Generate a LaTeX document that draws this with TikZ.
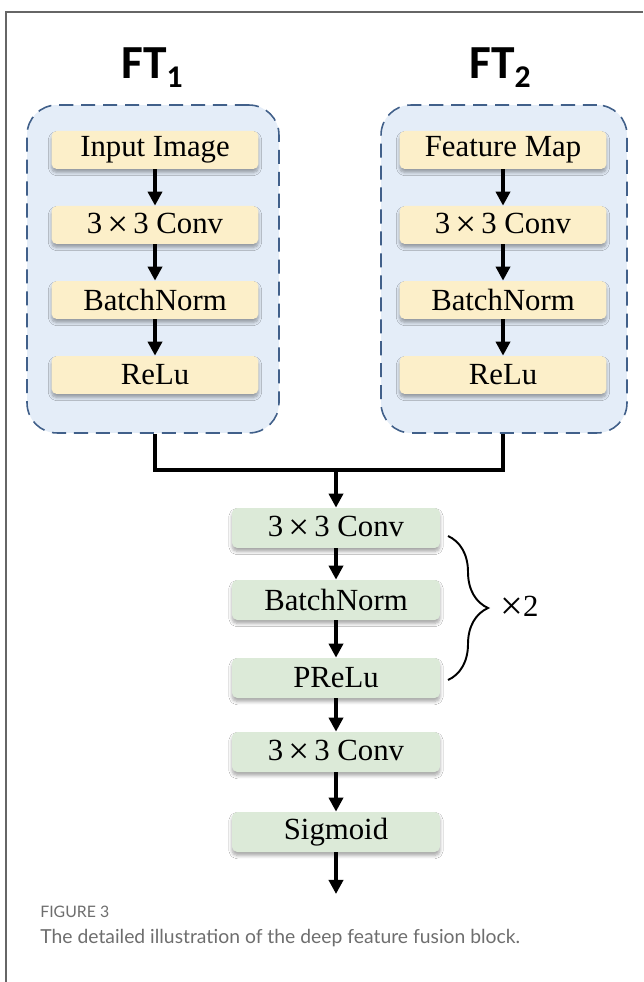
\documentclass[tikz,border=0pt]{standalone}
\usepackage{fontspec}
\setmainfont{Liberation Serif}
\newfontfamily\titlefont{Carlito}
\newfontfamily\capfont{Lato}
\usetikzlibrary{arrows.meta,shadows.blur,decorations.pathreplacing,positioning}
\definecolor{boxyellow}{HTML}{FCEFC9}
\definecolor{boxgreen}{HTML}{DCEAD8}
\definecolor{grpblue}{HTML}{E4EDF8}
\definecolor{grpline}{HTML}{41608A}
\definecolor{capgray}{HTML}{6E6E6E}
\newcommand{\crossby}{\,\raisebox{-0.25ex}{\fontsize{21}{20}\selectfont ×}\,}
\begin{document}
\begin{tikzpicture}[x=0.02cm, y=-0.02cm,
    layer/.style={rounded corners=3pt, minimum height=0.76cm, inner sep=0pt,
      font=\fontsize{17.5}{20}\selectfont,
      blur shadow={shadow xshift=0pt, shadow yshift=-2pt, shadow blur steps=6, shadow opacity=35}},
    ft/.style={layer, fill=boxyellow, minimum width=4.14cm},
    fuse/.style={layer, fill=boxgreen, minimum width=4.16cm, minimum height=0.8cm},
    grp/.style={draw=grpline, fill=grpblue, dash pattern=on 8pt off 4.5pt, line width=0.9pt,
      rounded corners=0.6cm, minimum width=5.04cm, minimum height=6.56cm},
    flow/.style={-{Triangle[width=8pt,length=8pt]}, line width=2pt},
    wire/.style={line width=2pt},
    head/.style={font=\titlefont\bfseries\fontsize{27}{30}\selectfont}]
  \useasboundingbox (0,0) rectangle (643,982);
  \fill[white] (0,0) rectangle (643,982);
  \draw[black!60, line width=0.9pt] (6,982) -- (6,12) -- (643,12);

  % two feature branches
  \node[grp] (grpA) at (153,269) {};
  \node[grp, minimum width=4.92cm] (grpB) at (504,269) {};
  \node[head] (ft1) at (152,68) {FT\raisebox{-0.4ex}{\fontsize{18}{18}\selectfont 1}};
  \node[head] (ft2) at (500,68) {FT\raisebox{-0.4ex}{\fontsize{18}{18}\selectfont 2}};

  \node[ft] (in1) at (155,150) {Input Image};
  \node[ft] (conv1) at (155,225) {3\crossby3 Conv};
  \node[ft] (bn1) at (155,300) {BatchNorm};
  \node[ft] (relu1) at (155,375) {ReLu};

  \node[ft] (in2) at (503,150) {Feature Map};
  \node[ft] (conv2) at (503,225) {3\crossby3 Conv};
  \node[ft] (bn2) at (503,300) {BatchNorm};
  \node[ft] (relu2) at (503,375) {ReLu};

  \draw[flow] (in1) -- (conv1);
  \draw[flow] (conv1) -- (bn1);
  \draw[flow] (bn1) -- (relu1);
  \draw[flow] (in2) -- (conv2);
  \draw[flow] (conv2) -- (bn2);
  \draw[flow] (bn2) -- (relu2);

  % fusion
  \coordinate (mid) at (336,470);
  \draw[wire] (relu1 |- grpA.south) |- (mid) -| (relu2 |- grpB.south);

  \node[fuse] (fconv1) at (336,528) {3\crossby3 Conv};
  \node[fuse] (fbn) at (336,600) {BatchNorm};
  \node[fuse] (fprelu) at (336,678) {PReLu};
  \node[fuse] (fconv2) at (336,752) {3\crossby3 Conv};
  \node[fuse] (fsig) at (336,832) {Sigmoid};
  \coordinate (out) at (336,894);

  \draw[flow] (mid) -- (fconv1);
  \draw[flow] (fconv1) -- (fbn);
  \draw[flow] (fbn) -- (fprelu);
  \draw[flow] (fprelu) -- (fconv2);
  \draw[flow] (fconv2) -- (fsig);
  \draw[flow] (fsig) -- (out);

  \coordinate (brtop) at (448,536);
  \coordinate (brbot) at (448,680);
  \draw[line width=1.1pt, decorate, decoration={brace, amplitude=0.8cm}] (brtop) -- (brbot);
  \node[anchor=west, font=\fontsize{17.5}{20}\selectfont] (rep) at (494,608) {\raisebox{-0.25ex}{\fontsize{23}{20}\selectfont ×}2};

  % caption
  \node[anchor=west, inner sep=0pt, text=capgray, font=\capfont\fontsize{9}{10}\selectfont] (figno) at (40,912) {FIGURE 3};
  \node[anchor=west, inner sep=0pt, text=capgray, font=\capfont\fontsize{11}{12}\selectfont] (cap) at (40,938) {The detailed illustration of the deep feature fusion block.};
\end{tikzpicture}
\end{document}
